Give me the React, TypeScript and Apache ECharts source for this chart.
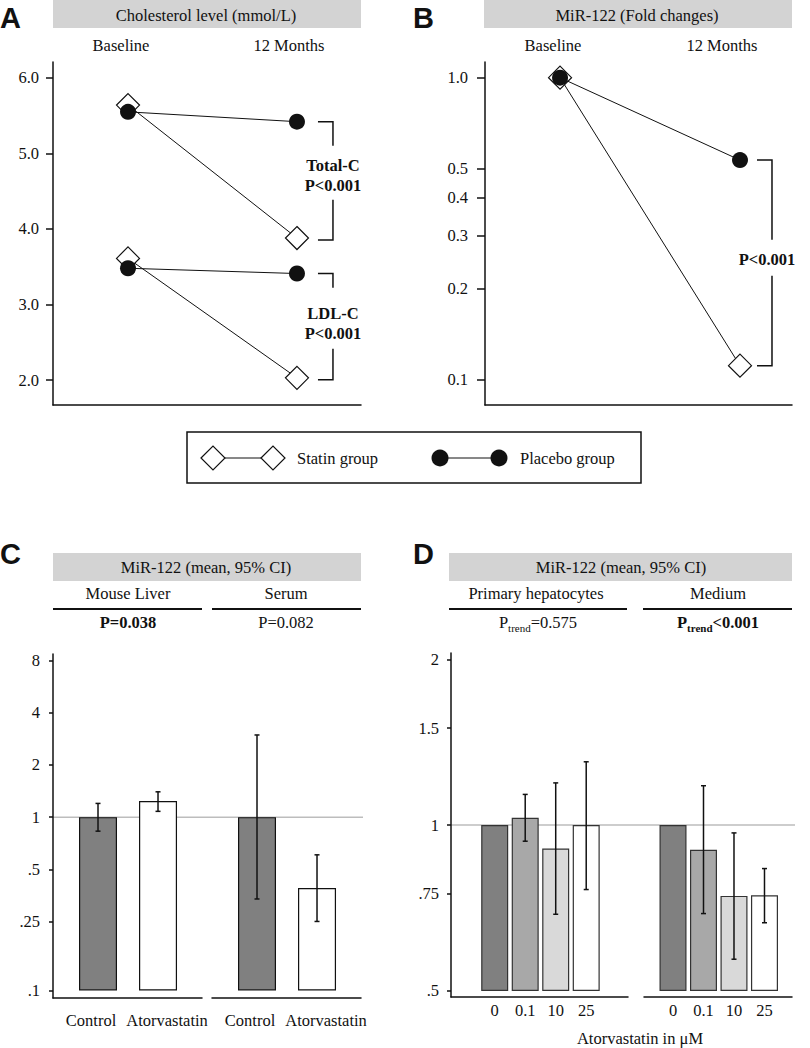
import React, { useEffect, useRef } from 'react';
import * as echarts from 'echarts';

// ---------------- Data ----------------
const timepoints = ['Baseline', '12 Months'];
// Panel A: cholesterol (mmol/L), [baseline, 12 months]
const statinTotalC = [5.64, 3.88];
const placeboTotalC = [5.55, 5.42];
const statinLDLC = [3.61, 2.03];
const placeboLDLC = [3.48, 3.41];
const cholTicks = [2, 3, 4, 5, 6];

// Panel B: miR-122 fold change
const statinMiR = [1.0, 0.111];
const placeboMiR = [1.0, 0.533];
const foldTicks = [0.1, 0.2, 0.3, 0.4, 0.5, 1.0];

// Panel C: mouse liver / serum
const mouseGroups = ['Control', 'Atorvastatin'];
const liverMean = [1.0, 1.24];
const liverLow = [0.83, 1.08];
const liverHigh = [1.2, 1.4];
const serumMean = [1.0, 0.39];
const serumLow = [0.337, 0.25];
const serumHigh = [2.98, 0.606];
const mouseTicks = [0.1, 0.25, 0.5, 1, 2, 4, 8];

// Panel D: hepatocytes / medium
const doses = ['0', '0.1', '10', '25'];
const hepMean = [1.0, 1.031, 0.907, 1.0];
const hepLow = [1.0, 0.935, 0.689, 0.764];
const hepHigh = [1.0, 1.137, 1.193, 1.303];
const medMean = [1.0, 0.902, 0.744, 0.746];
const medLow = [1.0, 0.691, 0.571, 0.665];
const medHigh = [1.0, 1.179, 0.968, 0.834];
const cellTicks = [0.5, 0.75, 1, 1.5, 2];

// ---------------- Styles / layout ----------------
const SERIF = '"Liberation Serif", "Times New Roman", serif';
const SANS = '"Liberation Sans", Arial, sans-serif';
const FS = 16.5;
const INK = '#111';
const AXIS = { color: '#111', width: 1.5 };
const MOUSE_COLORS = ['#808080', '#ffffff'];
const DOSE_COLORS = ['#808080', '#a8a8a8', '#d9d9d9', '#ffffff'];
const HEADER_FILL = '#d3d3d3';
// horizontal nudges of the mouse-group labels (padding left/right)
const MOUSE_LABEL_PAD = [[0, 14, 0, 0], [0, 0, 0, 18]];

const A_X = [-0.444, 1.379];
const A_Y = [1.67, 6.21];
const B_X = [-0.417, 1.289];
const B_Y = [0.0822, 1.127];
const C_X = [-0.75, 1.733];
const C_Y = [0.0904, 8.74];
const C_BASE = 0.1;
const D1_X = [-1.433, 4.37];
const D2_X = [-0.951, 3.902];
const D_Y = [0.4876, 2.053];
const D_BASE = 0.5;

const lg = (v: number, base = 1) => Math.log10(v / base);
const fmtLog = (base: number) => (s: number) => {
  const v = base * Math.pow(10, s);
  const r = Math.round(v * 100) / 100;
  return String(r).replace(/^0\./, '.');
};

const labelFont = { fontFamily: SERIF, fontSize: FS, color: INK };

const xAx = (gridIndex: number, ext: number[], labels?: string[], margin = 0, pads?: number[][]) => {
  const rich: any = {};
  if (pads) pads.forEach((p, i) => (rich['g' + i] = { ...labelFont, padding: p }));
  return {
    type: 'value',
    gridIndex,
    min: ext[0],
    max: ext[1],
    axisLine: { show: true, onZero: false, lineStyle: AXIS },
    axisTick: { show: false },
    axisLabel: labels
      ? {
          show: true,
          showMinLabel: true,
          showMaxLabel: true,
          hideOverlap: false,
          customValues: labels.map((_, i) => i),
          formatter: (v: number) => {
            const i = Math.round(v);
            return pads ? `{g${i}|${labels[i]}}` : labels[i];
          },
          margin,
          rich,
          ...labelFont,
        }
      : { show: false },
    splitLine: { show: false },
  };
};

const yAx = (
  gridIndex: number,
  min: number,
  max: number,
  ticks: number[] | null,
  fmt?: (v: number) => string,
  tickLen = 5,
  margin = 12
) => ({
  type: 'value',
  gridIndex,
  min,
  max,
  show: ticks !== null,
  axisLine: { show: true, onZero: false, lineStyle: AXIS },
  axisTick: ticks ? { show: true, customValues: ticks, length: tickLen, lineStyle: AXIS } : { show: false },
  axisLabel: ticks
    ? { show: true, showMinLabel: true, showMaxLabel: true, customValues: ticks, formatter: fmt, margin, ...labelFont }
    : { show: false },
  splitLine: { show: false },
});

const statinStyle = {
  symbol: 'diamond',
  symbolSize: 23,
  itemStyle: { color: '#ffffff', borderColor: INK, borderWidth: 1.2 },
  lineStyle: { color: INK, width: 1 },
  z: 2,
};
const placeboStyle = {
  symbol: 'circle',
  symbolSize: 16,
  itemStyle: { color: INK },
  lineStyle: { color: INK, width: 1 },
  z: 3,
};
const pair = (vals: number[], f = (v: number) => v) => vals.map((v, i) => [i, f(v)]);

const lineSeries = (name: string, axis: number, vals: number[], style: any, f?: (v: number) => number) => ({
  type: 'line',
  name,
  xAxisIndex: axis,
  yAxisIndex: axis,
  data: pair(vals, f),
  silent: true,
  ...style,
});

const errRender = (params: any, api: any) => {
  const x = api.value(0);
  const lo = api.value(1);
  const hi = api.value(2);
  if (hi - lo < 1e-6) return null;
  const top = api.coord([x, hi]);
  const bot = api.coord([x, lo]);
  const w = 2.5;
  const style = { stroke: INK, lineWidth: 1.5 };
  return {
    type: 'group',
    children: [
      { type: 'line', shape: { x1: top[0], y1: top[1], x2: bot[0], y2: bot[1] }, style },
      { type: 'line', shape: { x1: top[0] - w, y1: top[1], x2: top[0] + w, y2: top[1] }, style },
      { type: 'line', shape: { x1: bot[0] - w, y1: bot[1], x2: bot[0] + w, y2: bot[1] }, style },
    ],
  };
};

const bars = (axis: number, means: number[], base: number, colors: string[], width: number, border: string) => ({
  type: 'bar',
  xAxisIndex: axis,
  yAxisIndex: axis,
  barWidth: width,
  silent: true,
  data: means.map((m, i) => ({ value: [i, lg(m, base)], itemStyle: { color: colors[i] } })),
  itemStyle: { borderColor: border, borderWidth: 1.2 },
  z: 2,
});

const errs = (axis: number, lows: number[], highs: number[], base: number) => ({
  type: 'custom',
  xAxisIndex: axis,
  yAxisIndex: axis,
  silent: true,
  renderItem: errRender,
  data: lows.map((lo, i) => [i, lg(lo, base), lg(highs[i], base)]),
  encode: { x: 0, y: [1, 2] },
  z: 5,
});

function buildOption() {
  return {
    animation: false,
    textStyle: { fontFamily: SERIF, fontSize: FS, color: INK },
    grid: [
      { left: 53, top: 62, width: 308, height: 343 },
      { left: 485, top: 62, width: 307, height: 343 },
      { left: 53, top: 654, width: 149, height: 344 },
      { left: 212, top: 654, width: 149, height: 344 },
      { left: 451, top: 653, width: 177, height: 344 },
      { left: 644, top: 653, width: 148, height: 344 },
    ],
    xAxis: [
      xAx(0, A_X),
      xAx(1, B_X),
      xAx(2, C_X, mouseGroups, 14, MOUSE_LABEL_PAD),
      xAx(3, C_X, mouseGroups, 14, MOUSE_LABEL_PAD),
      xAx(4, D1_X, doses, 5),
      xAx(5, D2_X, doses, 5),
    ],
    yAxis: [
      yAx(0, A_Y[0], A_Y[1], cholTicks, (v) => v.toFixed(1), 7, 14),
      yAx(1, lg(B_Y[0]), lg(B_Y[1]), foldTicks.map((v) => lg(v)), (v) => Math.pow(10, v).toFixed(1), 8, 17),
      yAx(2, lg(C_Y[0], C_BASE), lg(C_Y[1], C_BASE), mouseTicks.map((v) => lg(v, C_BASE)), fmtLog(C_BASE), 4, 13),
      yAx(3, lg(C_Y[0], C_BASE), lg(C_Y[1], C_BASE), null),
      yAx(4, lg(D_Y[0], D_BASE), lg(D_Y[1], D_BASE), cellTicks.map((v) => lg(v, D_BASE)), fmtLog(D_BASE), 4, 12),
      yAx(5, lg(D_Y[0], D_BASE), lg(D_Y[1], D_BASE), null),
    ],
    series: [
      lineSeries('Statin group', 0, statinTotalC, statinStyle),
      lineSeries('Statin group', 0, statinLDLC, statinStyle),
      lineSeries('Placebo group', 0, placeboTotalC, placeboStyle),
      lineSeries('Placebo group', 0, placeboLDLC, placeboStyle),
      lineSeries('Statin group', 1, statinMiR, statinStyle, (v) => lg(v)),
      lineSeries('Placebo group', 1, placeboMiR, placeboStyle, (v) => lg(v)),
      bars(2, liverMean, C_BASE, MOUSE_COLORS, 38, INK),
      errs(2, liverLow, liverHigh, C_BASE),
      bars(3, serumMean, C_BASE, MOUSE_COLORS, 38, INK),
      errs(3, serumLow, serumHigh, C_BASE),
      bars(4, hepMean, D_BASE, DOSE_COLORS, 27, '#333'),
      errs(4, hepLow, hepHigh, D_BASE),
      bars(5, medMean, D_BASE, DOSE_COLORS, 27, '#333'),
      errs(5, medLow, medHigh, D_BASE),
    ],
  };
}

const T = (text: string, x: number, y: number, opts: any = {}) => ({
  type: 'text',
  x,
  y,
  silent: true,
  style: {
    text,
    fontFamily: SERIF,
    fontSize: FS,
    fill: INK,
    align: 'center',
    verticalAlign: 'middle',
    textAlign: 'center',
    textVerticalAlign: 'middle',
    ...opts,
  },
});
const R = (x: number, y: number, width: number, height: number, style: any) => ({
  type: 'rect',
  silent: true,
  shape: { x, y, width, height },
  style,
});
const L = (x1: number, y1: number, x2: number, y2: number, stroke = INK, lineWidth = 1.5) => ({
  type: 'line',
  silent: true,
  shape: { x1, y1, x2, y2 },
  style: { stroke, lineWidth },
});
const PL = (points: number[][]) => ({
  type: 'polyline',
  silent: true,
  shape: { points },
  style: { stroke: INK, lineWidth: 1.5, fill: 'none' },
});
const letter = (t: string, x: number, y: number) =>
  T(t, x, y, { align: 'left', textAlign: 'left', fontFamily: SANS, fontWeight: 'bold', fontSize: 29 });
const diamond = (cx: number, cy: number, r: number) => ({
  type: 'polygon',
  silent: true,
  shape: { points: [[cx - r, cy], [cx, cy - r], [cx + r, cy], [cx, cy + r]] },
  style: { fill: '#ffffff', stroke: INK, lineWidth: 1.2 },
});
const dot = (cx: number, cy: number, r: number) => ({
  type: 'circle',
  silent: true,
  shape: { cx, cy, r },
  style: { fill: INK },
});
const ptrend = (x: number, y: number, rest: string, bold: boolean) => ({
  type: 'text',
  x,
  y,
  silent: true,
  style: {
    text: `{p|P}{s|trend}{p|${rest}}`,
    align: 'center',
    verticalAlign: 'middle',
    textAlign: 'center',
    textVerticalAlign: 'middle',
    rich: {
      p: { fontFamily: SERIF, fontSize: FS, fill: INK, fontWeight: bold ? 'bold' : 'normal', lineHeight: 22, verticalAlign: 'middle' },
      s: { fontFamily: SERIF, fontSize: 11, fill: INK, fontWeight: bold ? 'bold' : 'normal', verticalAlign: 'bottom' },
    },
  },
});

function buildGraphics(chart: any) {
  const px = (grid: number, x: number, y: number) => chart.convertToPixel({ gridIndex: grid }, [x, y]) as number[];
  const els: any[] = [];

  // Panel letters
  els.push(letter('A', 0, 18), letter('B', 413, 18), letter('C', 0, 554), letter('D', 413, 554));

  // Panel A / B headers
  els.push(R(53, 0, 308, 28, { fill: HEADER_FILL }), T('Cholesterol level (mmol/L)', 206, 15));
  els.push(R(484, 0, 308, 28, { fill: HEADER_FILL }), T('MiR-122 (Fold changes)', 637, 15));
  els.push(T(timepoints[0], 121, 45), T(timepoints[1], 289, 45));
  els.push(T(timepoints[0], 553, 45), T(timepoints[1], 722, 45));

  // Panel A brackets
  const aBracket = (top: number[], bot: number[], lines: string[], up: number, gapUp: number, gapDown: number) => {
    const x0 = top[0] + 21;
    const x1 = top[0] + 36;
    const mid = (top[1] + bot[1]) / 2;
    els.push(PL([[x0, top[1]], [x1, top[1]], [x1, mid - gapUp]]));
    els.push(PL([[x1, mid + gapDown], [x1, bot[1] + 2], [x0, bot[1] + 2]]));
    lines.forEach((t, i) => els.push(T(t, x1, mid - up + i * 20, { fontWeight: 'bold' })));
  };
  aBracket(px(0, 1, placeboTotalC[1]), px(0, 1, statinTotalC[1]), ['Total-C', 'P<0.001'], 14, 34, 20);
  aBracket(px(0, 1, placeboLDLC[1]), px(0, 1, statinLDLC[1]), ['LDL-C', 'P<0.001'], 12, 38, 23);

  // Panel B bracket
  const bTop = px(1, 1, lg(placeboMiR[1]));
  const bBot = px(1, 1, lg(statinMiR[1]));
  const bx0 = bTop[0] + 17;
  const bx1 = bTop[0] + 32;
  const bMid = (bTop[1] + bBot[1]) / 2;
  els.push(PL([[bx0, bTop[1]], [bx1, bTop[1]], [bx1, bMid - 23]]));
  els.push(PL([[bx1, bMid + 13], [bx1, bBot[1]], [bx0, bBot[1]]]));
  els.push(T('P<0.001', bx1 - 5, bMid - 3, { fontWeight: 'bold' }));

  // Legend
  els.push(R(187, 432, 454, 51, { fill: 'none', stroke: INK, lineWidth: 1.5 }));
  els.push(L(225, 458, 261, 458, INK, 1), diamond(213, 458, 12), diamond(273, 458, 12));
  els.push(T('Statin group', 297, 458, { align: 'left', textAlign: 'left' }));
  els.push(L(440, 458, 499, 458, INK, 1), dot(440, 458, 8.5), dot(499, 458, 8.5));
  els.push(T('Placebo group', 520, 458, { align: 'left', textAlign: 'left' }));

  // Panel C header
  els.push(R(53, 553, 308, 28, { fill: HEADER_FILL }), T('MiR-122 (mean, 95% CI)', 206, 567));
  els.push(T('Mouse Liver', 128, 593), T('Serum', 286, 593));
  els.push(L(53, 609, 202, 609, INK, 2), L(212, 609, 361, 609, INK, 2));
  els.push(T('P=0.038', 128, 622, { fontWeight: 'bold' }), T('P=0.082', 286, 622));

  // Panel D header
  els.push(R(449, 553, 343, 28, { fill: HEADER_FILL }), T('MiR-122 (mean, 95% CI)', 621, 567));
  els.push(T('Primary hepatocytes', 536, 593), T('Medium', 718, 593));
  els.push(L(449, 609, 627, 609, INK, 2), L(643, 609, 792, 609, INK, 2));
  els.push(ptrend(538, 622, '=0.575', false), ptrend(718, 622, '<0.001', true));
  els.push(T('Atorvastatin in \u03bcM', 640, 1038));

  // Reference lines at 1
  const cy = chart.convertToPixel({ yAxisIndex: 2 }, lg(1, C_BASE));
  const cx1 = chart.convertToPixel({ xAxisIndex: 2 }, C_X[0]);
  const cx2 = chart.convertToPixel({ xAxisIndex: 3 }, C_X[1]) + 2;
  els.push({ ...L(cx1, cy, cx2, cy, '#bdbdbd', 1.5), z: -1 });
  const dy = chart.convertToPixel({ yAxisIndex: 4 }, lg(1, D_BASE));
  const dx1 = chart.convertToPixel({ xAxisIndex: 4 }, D1_X[0]);
  const dx2 = chart.convertToPixel({ xAxisIndex: 5 }, D2_X[1]) + 3;
  els.push({ ...L(dx1, dy, dx2, dy, '#bdbdbd', 1.5), z: -1 });

  return els;
}

export default function App() {
  const ref = useRef<HTMLDivElement>(null);
  useEffect(() => {
    if (!ref.current) return;
    const chart = echarts.init(ref.current, null, { renderer: 'svg' });
    chart.setOption(buildOption() as any);
    chart.setOption({ graphic: { elements: buildGraphics(chart) } } as any);
    return () => chart.dispose();
  }, []);
  return <div ref={ref} style={{ position: 'absolute', left: 0, top: 0, width: 810, height: 1048 }} />;
}
